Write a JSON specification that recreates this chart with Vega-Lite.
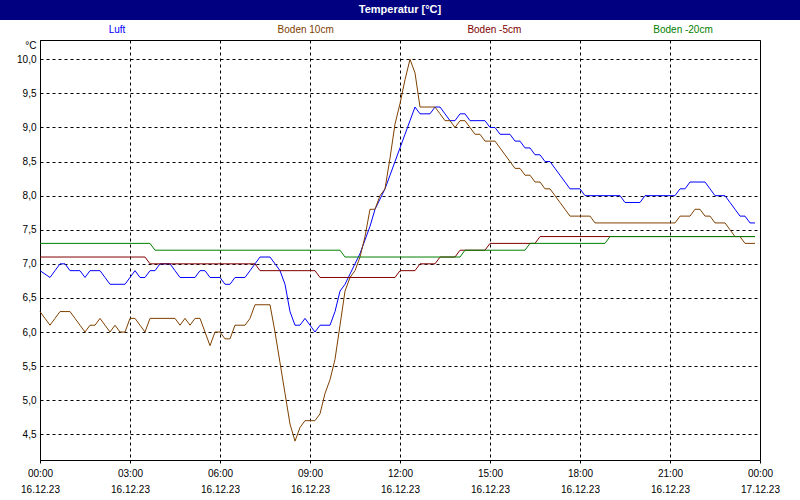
{
"$schema": "https://vega.github.io/schema/vega-lite/v6.json",
"background": "white",
"padding": 0,
"spacing": 0,
"bounds": "flush",
"config": {"font": "Liberation Sans", "view": {"stroke": null}, "concat": {"spacing": 0}},
"datasets": {"temp": [
{"t":"2023-12-16T00:00","luft":6.9,"b10":6.3,"b5":7.1,"b20":7.3},
{"t":"2023-12-16T00:10","luft":6.85,"b10":6.2,"b5":7.1,"b20":7.3},
{"t":"2023-12-16T00:20","luft":6.8,"b10":6.1,"b5":7.1,"b20":7.3},
{"t":"2023-12-16T00:30","luft":6.9,"b10":6.2,"b5":7.1,"b20":7.3},
{"t":"2023-12-16T00:40","luft":7.0,"b10":6.3,"b5":7.1,"b20":7.3},
{"t":"2023-12-16T00:50","luft":7.0,"b10":6.3,"b5":7.1,"b20":7.3},
{"t":"2023-12-16T01:00","luft":6.9,"b10":6.3,"b5":7.1,"b20":7.3},
{"t":"2023-12-16T01:10","luft":6.9,"b10":6.2,"b5":7.1,"b20":7.3},
{"t":"2023-12-16T01:20","luft":6.9,"b10":6.1,"b5":7.1,"b20":7.3},
{"t":"2023-12-16T01:30","luft":6.8,"b10":6.0,"b5":7.1,"b20":7.3},
{"t":"2023-12-16T01:40","luft":6.9,"b10":6.1,"b5":7.1,"b20":7.3},
{"t":"2023-12-16T01:50","luft":6.9,"b10":6.1,"b5":7.1,"b20":7.3},
{"t":"2023-12-16T02:00","luft":6.9,"b10":6.2,"b5":7.1,"b20":7.3},
{"t":"2023-12-16T02:10","luft":6.8,"b10":6.1,"b5":7.1,"b20":7.3},
{"t":"2023-12-16T02:20","luft":6.7,"b10":6.0,"b5":7.1,"b20":7.3},
{"t":"2023-12-16T02:30","luft":6.7,"b10":6.1,"b5":7.1,"b20":7.3},
{"t":"2023-12-16T02:40","luft":6.7,"b10":6.0,"b5":7.1,"b20":7.3},
{"t":"2023-12-16T02:50","luft":6.7,"b10":6.0,"b5":7.1,"b20":7.3},
{"t":"2023-12-16T03:00","luft":6.8,"b10":6.2,"b5":7.1,"b20":7.3},
{"t":"2023-12-16T03:10","luft":6.9,"b10":6.2,"b5":7.1,"b20":7.3},
{"t":"2023-12-16T03:20","luft":6.8,"b10":6.1,"b5":7.1,"b20":7.3},
{"t":"2023-12-16T03:30","luft":6.8,"b10":6.0,"b5":7.1,"b20":7.3},
{"t":"2023-12-16T03:40","luft":6.9,"b10":6.2,"b5":7.0,"b20":7.3},
{"t":"2023-12-16T03:50","luft":6.9,"b10":6.2,"b5":7.0,"b20":7.2},
{"t":"2023-12-16T04:00","luft":7.0,"b10":6.2,"b5":7.0,"b20":7.2},
{"t":"2023-12-16T04:10","luft":7.0,"b10":6.2,"b5":7.0,"b20":7.2},
{"t":"2023-12-16T04:20","luft":7.0,"b10":6.2,"b5":7.0,"b20":7.2},
{"t":"2023-12-16T04:30","luft":6.9,"b10":6.2,"b5":7.0,"b20":7.2},
{"t":"2023-12-16T04:40","luft":6.8,"b10":6.1,"b5":7.0,"b20":7.2},
{"t":"2023-12-16T04:50","luft":6.8,"b10":6.2,"b5":7.0,"b20":7.2},
{"t":"2023-12-16T05:00","luft":6.8,"b10":6.1,"b5":7.0,"b20":7.2},
{"t":"2023-12-16T05:10","luft":6.8,"b10":6.2,"b5":7.0,"b20":7.2},
{"t":"2023-12-16T05:20","luft":6.9,"b10":6.2,"b5":7.0,"b20":7.2},
{"t":"2023-12-16T05:30","luft":6.9,"b10":6.0,"b5":7.0,"b20":7.2},
{"t":"2023-12-16T05:40","luft":6.8,"b10":5.8,"b5":7.0,"b20":7.2},
{"t":"2023-12-16T05:50","luft":6.8,"b10":6.0,"b5":7.0,"b20":7.2},
{"t":"2023-12-16T06:00","luft":6.8,"b10":6.0,"b5":7.0,"b20":7.2},
{"t":"2023-12-16T06:10","luft":6.7,"b10":5.9,"b5":7.0,"b20":7.2},
{"t":"2023-12-16T06:20","luft":6.7,"b10":5.9,"b5":7.0,"b20":7.2},
{"t":"2023-12-16T06:30","luft":6.8,"b10":6.1,"b5":7.0,"b20":7.2},
{"t":"2023-12-16T06:40","luft":6.8,"b10":6.1,"b5":7.0,"b20":7.2},
{"t":"2023-12-16T06:50","luft":6.8,"b10":6.1,"b5":7.0,"b20":7.2},
{"t":"2023-12-16T07:00","luft":6.9,"b10":6.2,"b5":7.0,"b20":7.2},
{"t":"2023-12-16T07:10","luft":7.0,"b10":6.4,"b5":7.0,"b20":7.2},
{"t":"2023-12-16T07:20","luft":7.1,"b10":6.4,"b5":6.9,"b20":7.2},
{"t":"2023-12-16T07:30","luft":7.1,"b10":6.4,"b5":6.9,"b20":7.2},
{"t":"2023-12-16T07:40","luft":7.1,"b10":6.4,"b5":6.9,"b20":7.2},
{"t":"2023-12-16T07:50","luft":7.0,"b10":6.0,"b5":6.9,"b20":7.2},
{"t":"2023-12-16T08:00","luft":6.9,"b10":5.55,"b5":6.9,"b20":7.2},
{"t":"2023-12-16T08:10","luft":6.7,"b10":5.1,"b5":6.9,"b20":7.2},
{"t":"2023-12-16T08:20","luft":6.3,"b10":4.65,"b5":6.9,"b20":7.2},
{"t":"2023-12-16T08:30","luft":6.1,"b10":4.4,"b5":6.9,"b20":7.2},
{"t":"2023-12-16T08:40","luft":6.1,"b10":4.6,"b5":6.9,"b20":7.2},
{"t":"2023-12-16T08:50","luft":6.2,"b10":4.7,"b5":6.9,"b20":7.2},
{"t":"2023-12-16T09:00","luft":6.1,"b10":4.7,"b5":6.9,"b20":7.2},
{"t":"2023-12-16T09:10","luft":6.0,"b10":4.7,"b5":6.9,"b20":7.2},
{"t":"2023-12-16T09:20","luft":6.1,"b10":4.8,"b5":6.8,"b20":7.2},
{"t":"2023-12-16T09:30","luft":6.1,"b10":5.1,"b5":6.8,"b20":7.2},
{"t":"2023-12-16T09:40","luft":6.1,"b10":5.3,"b5":6.8,"b20":7.2},
{"t":"2023-12-16T09:50","luft":6.3,"b10":5.6,"b5":6.8,"b20":7.2},
{"t":"2023-12-16T10:00","luft":6.6,"b10":6.1,"b5":6.8,"b20":7.2},
{"t":"2023-12-16T10:10","luft":6.7,"b10":6.6,"b5":6.8,"b20":7.1},
{"t":"2023-12-16T10:20","luft":6.85,"b10":6.8,"b5":6.8,"b20":7.1},
{"t":"2023-12-16T10:30","luft":7.0,"b10":6.9,"b5":6.8,"b20":7.1},
{"t":"2023-12-16T10:40","luft":7.15,"b10":7.1,"b5":6.8,"b20":7.1},
{"t":"2023-12-16T10:50","luft":7.35,"b10":7.4,"b5":6.8,"b20":7.1},
{"t":"2023-12-16T11:00","luft":7.55,"b10":7.8,"b5":6.8,"b20":7.1},
{"t":"2023-12-16T11:10","luft":7.8,"b10":7.8,"b5":6.8,"b20":7.1},
{"t":"2023-12-16T11:20","luft":7.95,"b10":8.0,"b5":6.8,"b20":7.1},
{"t":"2023-12-16T11:30","luft":8.1,"b10":8.1,"b5":6.8,"b20":7.1},
{"t":"2023-12-16T11:40","luft":8.3,"b10":8.55,"b5":6.8,"b20":7.1},
{"t":"2023-12-16T11:50","luft":8.5,"b10":9.05,"b5":6.8,"b20":7.1},
{"t":"2023-12-16T12:00","luft":8.7,"b10":9.35,"b5":6.9,"b20":7.1},
{"t":"2023-12-16T12:10","luft":8.9,"b10":9.7,"b5":6.9,"b20":7.1},
{"t":"2023-12-16T12:20","luft":9.1,"b10":10.0,"b5":6.9,"b20":7.1},
{"t":"2023-12-16T12:30","luft":9.3,"b10":9.8,"b5":6.9,"b20":7.1},
{"t":"2023-12-16T12:40","luft":9.2,"b10":9.3,"b5":7.0,"b20":7.1},
{"t":"2023-12-16T12:50","luft":9.2,"b10":9.3,"b5":7.0,"b20":7.1},
{"t":"2023-12-16T13:00","luft":9.2,"b10":9.3,"b5":7.0,"b20":7.1},
{"t":"2023-12-16T13:10","luft":9.3,"b10":9.3,"b5":7.0,"b20":7.1},
{"t":"2023-12-16T13:20","luft":9.3,"b10":9.2,"b5":7.1,"b20":7.1},
{"t":"2023-12-16T13:30","luft":9.2,"b10":9.1,"b5":7.1,"b20":7.1},
{"t":"2023-12-16T13:40","luft":9.1,"b10":9.1,"b5":7.1,"b20":7.1},
{"t":"2023-12-16T13:50","luft":9.1,"b10":9.0,"b5":7.1,"b20":7.1},
{"t":"2023-12-16T14:00","luft":9.2,"b10":9.1,"b5":7.2,"b20":7.1},
{"t":"2023-12-16T14:10","luft":9.2,"b10":9.1,"b5":7.2,"b20":7.2},
{"t":"2023-12-16T14:20","luft":9.1,"b10":9.0,"b5":7.2,"b20":7.2},
{"t":"2023-12-16T14:30","luft":9.1,"b10":8.9,"b5":7.2,"b20":7.2},
{"t":"2023-12-16T14:40","luft":9.1,"b10":8.9,"b5":7.2,"b20":7.2},
{"t":"2023-12-16T14:50","luft":9.1,"b10":8.8,"b5":7.2,"b20":7.2},
{"t":"2023-12-16T15:00","luft":9.0,"b10":8.8,"b5":7.3,"b20":7.2},
{"t":"2023-12-16T15:10","luft":9.0,"b10":8.8,"b5":7.3,"b20":7.2},
{"t":"2023-12-16T15:20","luft":8.9,"b10":8.7,"b5":7.3,"b20":7.2},
{"t":"2023-12-16T15:30","luft":8.9,"b10":8.6,"b5":7.3,"b20":7.2},
{"t":"2023-12-16T15:40","luft":8.9,"b10":8.5,"b5":7.3,"b20":7.2},
{"t":"2023-12-16T15:50","luft":8.8,"b10":8.4,"b5":7.3,"b20":7.2},
{"t":"2023-12-16T16:00","luft":8.8,"b10":8.4,"b5":7.3,"b20":7.2},
{"t":"2023-12-16T16:10","luft":8.7,"b10":8.3,"b5":7.3,"b20":7.2},
{"t":"2023-12-16T16:20","luft":8.7,"b10":8.3,"b5":7.3,"b20":7.3},
{"t":"2023-12-16T16:30","luft":8.6,"b10":8.2,"b5":7.3,"b20":7.3},
{"t":"2023-12-16T16:40","luft":8.6,"b10":8.2,"b5":7.4,"b20":7.3},
{"t":"2023-12-16T16:50","luft":8.5,"b10":8.1,"b5":7.4,"b20":7.3},
{"t":"2023-12-16T17:00","luft":8.5,"b10":8.1,"b5":7.4,"b20":7.3},
{"t":"2023-12-16T17:10","luft":8.4,"b10":8.0,"b5":7.4,"b20":7.3},
{"t":"2023-12-16T17:20","luft":8.3,"b10":7.9,"b5":7.4,"b20":7.3},
{"t":"2023-12-16T17:30","luft":8.2,"b10":7.8,"b5":7.4,"b20":7.3},
{"t":"2023-12-16T17:40","luft":8.1,"b10":7.7,"b5":7.4,"b20":7.3},
{"t":"2023-12-16T17:50","luft":8.1,"b10":7.7,"b5":7.4,"b20":7.3},
{"t":"2023-12-16T18:00","luft":8.1,"b10":7.7,"b5":7.4,"b20":7.3},
{"t":"2023-12-16T18:10","luft":8.0,"b10":7.7,"b5":7.4,"b20":7.3},
{"t":"2023-12-16T18:20","luft":8.0,"b10":7.7,"b5":7.4,"b20":7.3},
{"t":"2023-12-16T18:30","luft":8.0,"b10":7.6,"b5":7.4,"b20":7.3},
{"t":"2023-12-16T18:40","luft":8.0,"b10":7.6,"b5":7.4,"b20":7.3},
{"t":"2023-12-16T18:50","luft":8.0,"b10":7.6,"b5":7.4,"b20":7.3},
{"t":"2023-12-16T19:00","luft":8.0,"b10":7.6,"b5":7.4,"b20":7.4},
{"t":"2023-12-16T19:10","luft":8.0,"b10":7.6,"b5":7.4,"b20":7.4},
{"t":"2023-12-16T19:20","luft":8.0,"b10":7.6,"b5":7.4,"b20":7.4},
{"t":"2023-12-16T19:30","luft":7.9,"b10":7.6,"b5":7.4,"b20":7.4},
{"t":"2023-12-16T19:40","luft":7.9,"b10":7.6,"b5":7.4,"b20":7.4},
{"t":"2023-12-16T19:50","luft":7.9,"b10":7.6,"b5":7.4,"b20":7.4},
{"t":"2023-12-16T20:00","luft":7.9,"b10":7.6,"b5":7.4,"b20":7.4},
{"t":"2023-12-16T20:10","luft":8.0,"b10":7.6,"b5":7.4,"b20":7.4},
{"t":"2023-12-16T20:20","luft":8.0,"b10":7.6,"b5":7.4,"b20":7.4},
{"t":"2023-12-16T20:30","luft":8.0,"b10":7.6,"b5":7.4,"b20":7.4},
{"t":"2023-12-16T20:40","luft":8.0,"b10":7.6,"b5":7.4,"b20":7.4},
{"t":"2023-12-16T20:50","luft":8.0,"b10":7.6,"b5":7.4,"b20":7.4},
{"t":"2023-12-16T21:00","luft":8.0,"b10":7.6,"b5":7.4,"b20":7.4},
{"t":"2023-12-16T21:10","luft":8.0,"b10":7.6,"b5":7.4,"b20":7.4},
{"t":"2023-12-16T21:20","luft":8.1,"b10":7.7,"b5":7.4,"b20":7.4},
{"t":"2023-12-16T21:30","luft":8.1,"b10":7.7,"b5":7.4,"b20":7.4},
{"t":"2023-12-16T21:40","luft":8.2,"b10":7.7,"b5":7.4,"b20":7.4},
{"t":"2023-12-16T21:50","luft":8.2,"b10":7.8,"b5":7.4,"b20":7.4},
{"t":"2023-12-16T22:00","luft":8.2,"b10":7.8,"b5":7.4,"b20":7.4},
{"t":"2023-12-16T22:10","luft":8.2,"b10":7.7,"b5":7.4,"b20":7.4},
{"t":"2023-12-16T22:20","luft":8.1,"b10":7.7,"b5":7.4,"b20":7.4},
{"t":"2023-12-16T22:30","luft":8.0,"b10":7.6,"b5":7.4,"b20":7.4},
{"t":"2023-12-16T22:40","luft":8.0,"b10":7.6,"b5":7.4,"b20":7.4},
{"t":"2023-12-16T22:50","luft":8.0,"b10":7.6,"b5":7.4,"b20":7.4},
{"t":"2023-12-16T23:00","luft":7.9,"b10":7.5,"b5":7.4,"b20":7.4},
{"t":"2023-12-16T23:10","luft":7.8,"b10":7.4,"b5":7.4,"b20":7.4},
{"t":"2023-12-16T23:20","luft":7.7,"b10":7.4,"b5":7.4,"b20":7.4},
{"t":"2023-12-16T23:30","luft":7.7,"b10":7.3,"b5":7.4,"b20":7.4},
{"t":"2023-12-16T23:40","luft":7.6,"b10":7.3,"b5":7.4,"b20":7.4},
{"t":"2023-12-16T23:50","luft":7.6,"b10":7.3,"b5":7.4,"b20":7.4}
]},
"vconcat": [
{
"width": 800, "height": 20,
"view": {"fill": "#000080", "stroke": null},
"data": {"values": [{"title": "Temperatur [°C]"}]},
"mark": {"type": "text", "color": "white", "fontWeight": "bold", "fontSize": 11},
"encoding": {"text": {"field": "title", "type": "nominal"}}
},
{
"width": 800, "height": 20,
"view": {"stroke": null},
"data": {"values": [{"name": "Luft"}, {"name": "Boden 10cm"}, {"name": "Boden -5cm"}, {"name": "Boden -20cm"}]},
"mark": {"type": "text", "fontSize": 10},
"encoding": {
"x": {"field": "name", "type": "nominal", "scale": {"type": "point", "domain": ["Luft", "Boden 10cm", "Boden -5cm", "Boden -20cm"], "padding": 0.62}, "axis": null},
"text": {"field": "name", "type": "nominal"},
"color": {"field": "name", "type": "nominal", "scale": {"domain": ["Luft", "Boden 10cm", "Boden -5cm", "Boden -20cm"], "range": ["#0000ff", "#804000", "#800000", "#008000"]}, "legend": null}
}
},
{
"bounds": "flush",
"spacing": 0,
"hconcat": [
{
"width": 40, "height": 420,
"view": {"stroke": null},
"data": {"values": []},
"mark": "point"
},
{
"width": 720, "height": 420,
"view": {"stroke": "black", "strokeWidth": 1},
"data": {"name": "temp"},
"transform": [{"fold": ["luft", "b10", "b5", "b20"], "as": ["series", "value"]}],
"mark": {"type": "line", "strokeWidth": 1},
"encoding": {
"x": {"field": "t", "type": "temporal",
"scale": {"domain": [{"year": 2023, "month": 12, "date": 16, "hours": 0}, {"year": 2023, "month": 12, "date": 17, "hours": 0}], "nice": false},
"axis": {"title": null,
"values": [{"year": 2023, "month": 12, "date": 16, "hours": 0}, {"year": 2023, "month": 12, "date": 16, "hours": 3}, {"year": 2023, "month": 12, "date": 16, "hours": 6}, {"year": 2023, "month": 12, "date": 16, "hours": 9}, {"year": 2023, "month": 12, "date": 16, "hours": 12}, {"year": 2023, "month": 12, "date": 16, "hours": 15}, {"year": 2023, "month": 12, "date": 16, "hours": 18}, {"year": 2023, "month": 12, "date": 16, "hours": 21}, {"year": 2023, "month": 12, "date": 17, "hours": 0}],
"labelExpr": "[timeFormat(datum.value, '%H:%M'), timeFormat(datum.value, '%d.%m.%y')]",
"labelFlush": false, "labelOverlap": false, "labelLineHeight": 16, "labelPadding": 5, "labelFontSize": 10, "labelColor": "black",
"tickSize": 3, "tickColor": "black", "domainColor": "black",
"grid": true, "gridColor": "black", "gridDash": [3, 3]}},
"y": {"field": "value", "type": "quantitative",
"scale": {"domain": [4.123, 10.283], "nice": false, "zero": false},
"axis": {"values": [4.5, 5, 5.5, 6, 6.5, 7, 7.5, 8, 8.5, 9, 9.5, 10],
"labelExpr": "replace(format(datum.value, '.1f'), '.', ',')",
"ticks": false, "labelPadding": 4, "labelFontSize": 10, "labelColor": "black", "domainColor": "black",
"grid": true, "gridColor": "black", "gridDash": [3, 3],
"title": "°C", "titleAngle": 0, "titleX": -4, "titleY": 8, "titleAlign": "right", "titleBaseline": "alphabetic",
"titleFontSize": 10, "titleFontWeight": "normal", "titleColor": "black", "titlePadding": 0}},
"color": {"field": "series", "type": "nominal", "scale": {"domain": ["luft", "b10", "b5", "b20"], "range": ["#0000ff", "#804000", "#800000", "#008000"]}, "legend": null}
}
}
]
}
]
}
